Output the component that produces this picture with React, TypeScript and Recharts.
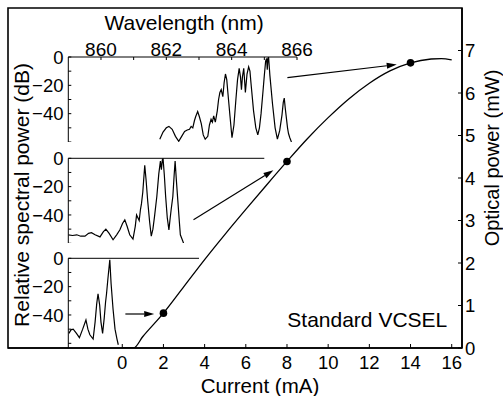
import React from 'react';
import { ComposedChart, LineChart, Line, XAxis, YAxis, ReferenceLine, ReferenceDot, ReferenceArea } from 'recharts';

const FONT = '"Liberation Sans", Arial, Helvetica, sans-serif';

// ---- Main L-I curve ----
const currentMA = [0, 0.55, 1, 2, 3, 4, 5, 6, 7, 8, 9, 10, 11, 12, 13, 14, 15, 15.5, 16];
const powerMW = [0, 0, 0.27, 0.82, 1.45, 2.08, 2.68, 3.26, 3.83, 4.39, 4.93, 5.42, 5.86, 6.23, 6.52, 6.71, 6.8, 6.81, 6.78];
const currentTicks = [0, 2, 4, 6, 8, 10, 12, 14, 16];
const powerTicks = [0, 1, 2, 3, 4, 5, 6, 7];
const currentDomain: [number, number] = [-5.55, 16.5];
const powerDomain: [number, number] = [0, 8];

// measurement points
const markerCurrent = [2, 8, 14];
const markerPower = [0.82, 4.39, 6.71];

// arrows (data coordinates of main chart)
const arrowFromI = [0.15, 3.46, 8.02];
const arrowFromP = [0.8, 3.02, 6.36];
const arrowToI = [1.55, 7.34, 13.33];
const arrowToP = [0.8, 4.18, 6.67];

// ---- Spectra ----
const wl14 = [861.8, 861.9, 862.0, 862.08, 862.18, 862.28, 862.38, 862.47, 862.56, 862.64, 862.71, 862.76, 862.81, 862.86, 862.9, 862.96, 863.01, 863.07, 863.13, 863.19, 863.27, 863.32, 863.37, 863.41, 863.45, 863.5, 863.56, 863.6, 863.64, 863.68, 863.73, 863.77, 863.81, 863.85, 863.88, 863.95, 864.01, 864.07, 864.13, 864.18, 864.23, 864.27, 864.3, 864.33, 864.37, 864.4, 864.42, 864.47, 864.52, 864.56, 864.59, 864.67, 864.74, 864.8, 864.85, 864.9, 864.96, 865.0, 865.04, 865.07, 865.09, 865.11, 865.13, 865.17, 865.25, 865.33, 865.4, 865.47, 865.54, 865.58, 865.61, 865.64, 865.68, 865.71, 865.74, 865.78, 865.83];
const db14 = [-58, -53, -50, -49, -51, -56, -59.5, -56, -52.5, -51.5, -51, -49, -50, -45, -42, -38.5, -42, -47, -55, -58, -56, -48, -44, -46, -41.5, -46, -38, -30, -25, -23, -28, -18, -12, -16, -24, -42, -57, -48, -30, -16, -8, -14, -23, -14, -8, -18, -25, -12, -7, -10, -18, -38, -50, -55, -50, -40, -24, -13, -3, -1, -9, -1, 0, -13, -33, -50, -58, -52, -41, -32, -29, -36, -44, -50, -54, -57, -60];

const wl8 = [859.0, 859.13, 859.26, 859.38, 859.51, 859.62, 859.71, 859.82, 859.97, 860.07, 860.15, 860.25, 860.37, 860.48, 860.58, 860.66, 860.73, 860.8, 860.88, 860.98, 861.05, 861.09, 861.13, 861.17, 861.21, 861.24, 861.28, 861.34, 861.38, 861.43, 861.49, 861.54, 861.59, 861.64, 861.71, 861.77, 861.82, 861.85, 861.88, 861.9, 861.94, 861.98, 862.03, 862.08, 862.12, 862.15, 862.2, 862.24, 862.27, 862.31, 862.35, 862.4, 862.43, 862.48, 862.53];
const db8 = [-54, -54.5, -54, -55, -55, -53, -52.5, -54, -55.5, -52, -50, -53, -57.5, -54, -50.5, -46, -43.5, -48, -54, -57, -48, -40, -42, -44, -36, -32, -24, -5, -15, -30, -45, -55, -50, -41, -27, -11, -2, -8, -1, 0, -12, -27, -42, -50.5, -42, -36, -27, -12, -2, -16, -29, -45, -54, -57, -60];

const wl2 = [859.02, 859.08, 859.15, 859.25, 859.34, 859.44, 859.54, 859.6, 859.66, 859.76, 859.82, 859.87, 859.91, 859.96, 860.0, 860.05, 860.1, 860.14, 860.17, 860.21, 860.27, 860.31, 860.37, 860.43, 860.49, 860.53];
const db2 = [-53, -50.5, -50, -53, -56, -50, -43.5, -50, -54, -57, -45, -32, -25, -33, -45, -53, -42, -31, -25, -15, -1, -18, -36, -50, -57, -61];

const dbTicks = [0, -10, -20, -30, -40, -50, -60];

const liData = currentMA.map((c, i) => ({ x: c, p: powerMW[i] }));
const toSpec = (w: number[], d: number[]) => w.map((v, i) => ({ w: v, d: d[i] }));

const fmtDb = (v: number) => (v % 20 === 0 && v > -60 ? (v === 0 ? '0' : '\u2212' + Math.abs(v)) : '');

const ArrowShape = (p: any) => {
  const { x1, y1, x2, y2 } = p;
  const ang = Math.atan2(y2 - y1, x2 - x1);
  const L = 10;
  const W = 3;
  const bx = x2 - L * Math.cos(ang);
  const by = y2 - L * Math.sin(ang);
  const px = -Math.sin(ang) * W;
  const py = Math.cos(ang) * W;
  return (
    <g>
      <line x1={x1} y1={y1} x2={bx} y2={by} stroke="#000" strokeWidth={1.2} />
      <polygon points={`${x2},${y2} ${bx + px},${by + py} ${bx - px},${by - py}`} fill="#000" />
    </g>
  );
};

const tickStyle = { fontSize: 18.5, fill: '#000', fontFamily: FONT };

const TopWlTick = (props: any) => {
  const { x, y, payload } = props;
  if (payload.value % 2 !== 0) return <g />;
  return (
    <text x={x} y={y} textAnchor="middle" fontSize={19} fontFamily={FONT} fill="#000">
      {payload.value}
    </text>
  );
};

interface InsetProps {
  data: { w: number; d: number }[];
  width: number;
  height: number;
  plotTop: number;
  right: number;
  xDomain: [number, number];
  xTicks: number[];
  yMin: number;
  top?: boolean;
}

const Inset = ({ data, width, height, plotTop, right, xDomain, xTicks, yMin, top }: InsetProps) => (
  <div style={{ position: 'absolute', left: 0, top: 0 }}>
    <LineChart width={width} height={height} data={data} margin={{ top: 0, right, bottom: 0, left: 0 }}>
      <XAxis
        dataKey="w"
        type="number"
        orientation="top"
        domain={xDomain}
        ticks={xTicks}
        interval={0}
        allowDataOverflow
        height={plotTop}
        tickSize={-3}
        tickMargin={4.5}
        axisLine={{ stroke: '#000', strokeWidth: 1 }}
        tickLine={{ stroke: '#000', strokeWidth: 1 }}
        tick={top ? <TopWlTick /> : false}
        label={
          top
            ? { value: 'Wavelength (nm)', position: 'insideTop', offset: 15, dx: 1.5, fontSize: 21, fill: '#000', fontFamily: FONT }
            : undefined
        }
      />
      <YAxis
        type="number"
        domain={[yMin, 0]}
        ticks={dbTicks}
        interval={0}
        allowDataOverflow
        width={68.3}
        tickSize={-3}
        tickMargin={7.8}
        tickFormatter={fmtDb}
        axisLine={{ stroke: '#000', strokeWidth: 1 }}
        tickLine={{ stroke: '#000', strokeWidth: 1 }}
        tick={tickStyle}
      />
      <Line dataKey="d" type="linear" stroke="#000" strokeWidth={1.2} dot={false} isAnimationActive={false} />
    </LineChart>
  </div>
);

export default function App() {
  return (
    <div style={{ position: 'absolute', left: 0, top: 0, width: 503, height: 396, background: '#fff', fontFamily: FONT }}>
      <div style={{ position: 'absolute', left: 0, top: 0 }}>
        <ComposedChart width={503} height={396} data={liData} margin={{ top: 8, right: 0, bottom: 0, left: 8 }}>
          <XAxis
            dataKey="x"
            type="number"
            domain={currentDomain}
            ticks={currentTicks}
            interval={0}
            allowDataOverflow
            height={48}
            tickSize={-4}
            tickMargin={12}
            axisLine={{ stroke: '#000', strokeWidth: 1.6 }}
            tickLine={{ stroke: '#000', strokeWidth: 1 }}
            tick={tickStyle}
            label={{ value: 'Current (mA)', position: 'insideBottom', offset: 3, dx: 25, fontSize: 20.5, fill: '#000', fontFamily: FONT }}
          />
          <YAxis
            orientation="right"
            type="number"
            domain={powerDomain}
            ticks={powerTicks}
            interval={0}
            allowDataOverflow
            width={41}
            tickSize={-4}
            tickMargin={7}
            axisLine={{ stroke: '#000', strokeWidth: 1.6 }}
            tickLine={{ stroke: '#000', strokeWidth: 1 }}
            tick={tickStyle}
            label={{ value: 'Optical power (mW)', angle: -90, position: 'center', dx: 9.5, dy: -20, fontSize: 20, fill: '#000', fontFamily: FONT }}
          />
          <ReferenceArea
            x1={currentDomain[0]}
            x2={currentDomain[1]}
            y1={powerDomain[0]}
            y2={powerDomain[1]}
            fill="none"
            fillOpacity={0}
            stroke="#000"
            strokeWidth={1.6}
            ifOverflow="visible"
          />
          <Line dataKey="p" type="monotone" stroke="#000" strokeWidth={1.3} dot={false} isAnimationActive={false} />
          {markerCurrent.map((c, i) => (
            <ReferenceDot key={'m' + i} x={c} y={markerPower[i]} r={3.8} fill="#000" stroke="none" />
          ))}
          {arrowFromI.map((a, i) => (
            <ReferenceLine
              key={'a' + i}
              segment={[
                { x: a, y: arrowFromP[i] },
                { x: arrowToI[i], y: arrowToP[i] },
              ]}
              shape={ArrowShape}
            />
          ))}
          <ReferenceDot
            x={11.9}
            y={0.68}
            r={0}
            fill="none"
            stroke="none"
            label={{ value: 'Standard VCSEL', position: 'center', fontSize: 21, fill: '#000', fontFamily: FONT }}
          />
          <ReferenceDot
            x={-4.87}
            y={3.6}
            r={0}
            fill="none"
            stroke="none"
            label={{ value: 'Relative spectral power (dB)', angle: -90, position: 'center', fontSize: 21, fill: '#000', fontFamily: FONT }}
          />
        </ComposedChart>
      </div>
      <Inset data={toSpec(wl14, db14)} width={335} height={142} plotTop={57} right={38} xDomain={[859, 866]} xTicks={[860, 861, 862, 863, 864, 865, 866]} yMin={-60} top />
      <Inset data={toSpec(wl8, db8)} width={280} height={243.3} plotTop={158.3} right={15.7} xDomain={[859, 865]} xTicks={[860, 861, 862, 863, 864, 865]} yMin={-60} />
      <Inset data={toSpec(wl2, db2)} width={220} height={348} plotTop={258.3} right={21} xDomain={[859, 863]} xTicks={[860, 861, 862, 863]} yMin={-63.3} />
    </div>
  );
}
